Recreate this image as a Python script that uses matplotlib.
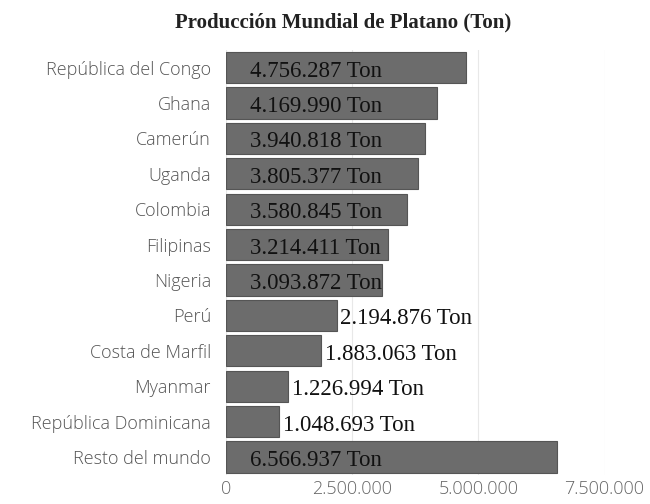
import matplotlib
matplotlib.use("Agg")
import matplotlib.pyplot as plt
from matplotlib.ticker import FuncFormatter

categories = ["República del Congo", "Ghana", "Camerún", "Uganda", "Colombia",
              "Filipinas", "Nigeria", "Perú", "Costa de Marfil", "Myanmar",
              "República Dominicana", "Resto del mundo"]
values = [4756287, 4169990, 3940818, 3805377, 3580845, 3214411, 3093872,
          2194876, 1883063, 1226994, 1048693, 6566937]
labels_inside = [True, True, True, True, True, True, True,
                 False, False, False, False, True]
xticks = [0, 2500000, 5000000, 7500000]

def fmt(v):
    return f"{v:,}".replace(",", ".")

fig = plt.figure(figsize=(6.5, 5.04), dpi=100)
ax = fig.add_axes([0.348, 0.058, 0.582, 0.843])

y = list(range(len(categories)))
ax.barh(y, values, height=0.88, color="#6c6c6c", edgecolor="#555555", linewidth=0.8, zorder=3)
ax.set_ylim(len(categories) - 0.5, -0.5)
ax.set_xlim(0, 7500000)
ax.set_yticks(y)
ax.set_yticklabels(categories, family="Open Sans", fontweight=300, fontsize=13, color="#555555")
ax.set_xticks(xticks)
ax.xaxis.set_major_formatter(FuncFormatter(lambda v, p: "0" if v == 0 else f"{int(v):,}".replace(",", ".")))
for t in ax.get_xticklabels():
    t.set_family("Open Sans"); t.set_fontweight(300); t.set_fontsize(13); t.set_color("#666666")
ax.tick_params(axis="both", length=0, pad=4)
ax.tick_params(axis="y", pad=11)
for s in ax.spines.values():
    s.set_visible(False)
ax.grid(axis="x", color="#e8e8e8", linewidth=0.8, zorder=0)

for yi, v, inside in zip(y, values, labels_inside):
    txt = fmt(v) + " Ton"
    x = 480000 if inside else v + 70000
    ax.text(x, yi + 0.1, txt, va="center", ha="left", family="Liberation Serif",
            fontsize=16.5, color="#111111", zorder=4)

fig.text(0.528, 0.955, "Producción Mundial de Platano (Ton)", ha="center", va="center",
         family="Liberation Serif", fontweight="bold", fontsize=15, color="#222222")

fig.savefig("out.png", dpi=100, facecolor="white")
